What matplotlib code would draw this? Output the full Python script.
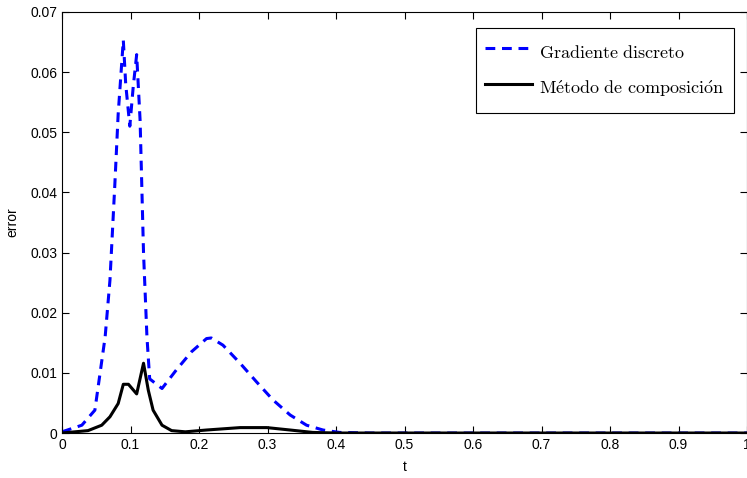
import matplotlib
matplotlib.use("Agg")
import matplotlib.pyplot as plt

# error curves
t_grad = [0.0, 0.029, 0.048, 0.063, 0.070, 0.077, 0.082, 0.0895, 0.093, 0.099, 0.104,
          0.109, 0.114, 0.119, 0.124, 0.128, 0.146, 0.167, 0.189, 0.211, 0.218, 0.235,
          0.260, 0.284, 0.308, 0.333, 0.357, 0.381, 0.405, 0.45, 1.0]
e_grad = [0.0002, 0.0013, 0.0038, 0.016, 0.0254, 0.041, 0.053, 0.0653, 0.058, 0.051, 0.0576,
          0.0629, 0.052, 0.030, 0.016, 0.0090, 0.0074, 0.0105, 0.0135, 0.0157, 0.0158, 0.0146,
          0.0116, 0.0085, 0.0055, 0.0030, 0.0013, 0.0005, 0.0001, 0.0, 0.0]

t_comp = [0.0, 0.038, 0.058, 0.070, 0.082, 0.0895, 0.097, 0.109, 0.119, 0.126, 0.133,
          0.146, 0.160, 0.180, 0.211, 0.260, 0.299, 0.333, 0.366, 0.40, 1.0]
e_comp = [0.0, 0.0004, 0.0013, 0.0027, 0.0049, 0.0081, 0.0081, 0.0065, 0.0116, 0.0071, 0.0038,
          0.0013, 0.0004, 0.0002, 0.0005, 0.0009, 0.0009, 0.0005, 0.0001, 0.0, 0.0]

x_ticks = [0, 0.1, 0.2, 0.3, 0.4, 0.5, 0.6, 0.7, 0.8, 0.9, 1]
x_labels = ["0", "0.1", "0.2", "0.3", "0.4", "0.5", "0.6", "0.7", "0.8", "0.9", "1"]
y_ticks = [0, 0.01, 0.02, 0.03, 0.04, 0.05, 0.06, 0.07]
y_labels = ["0", "0.01", "0.02", "0.03", "0.04", "0.05", "0.06", "0.07"]

plt.rcParams["font.family"] = ["Liberation Sans", "DejaVu Sans"]
plt.rcParams["mathtext.fontset"] = "cm"

fig = plt.figure(figsize=(7.47, 4.78), dpi=100)
ax = fig.add_axes([0.083, 0.0941, 0.917, 0.881])

ax.plot(t_grad, e_grad, color="blue", lw=2.2, linestyle=(0, (3.2, 2.2)),
        label=r"$\mathrm{Gradiente\ discreto}$")
ax.plot(t_comp, e_comp, color="black", lw=2.2,
        label=r"$\mathrm{M\acute{e}todo\ de\ composici\acute{o}n}$")

ax.set_xlim(0, 1)
ax.set_ylim(0, 0.07)
ax.set_xticks(x_ticks)
ax.set_xticklabels(x_labels)
ax.set_yticks(y_ticks)
ax.set_yticklabels(y_labels)
ax.tick_params(direction="in", top=True, right=True, length=5, labelsize=10, width=0.8)
ax.set_xlabel("t", fontsize=10, labelpad=6)
ax.set_ylabel("error", fontsize=10, labelpad=8)

leg = ax.legend(loc="upper right", fontsize=13, fancybox=False, edgecolor="black",
                framealpha=1, handlelength=2.6, handleheight=2.1, handletextpad=0.35,
                borderpad=0.55, labelspacing=0.4, borderaxespad=0,
                bbox_to_anchor=(0.981, 0.962))
leg.get_frame().set_linewidth(0.8)

fig.savefig("out.png", dpi=100)
